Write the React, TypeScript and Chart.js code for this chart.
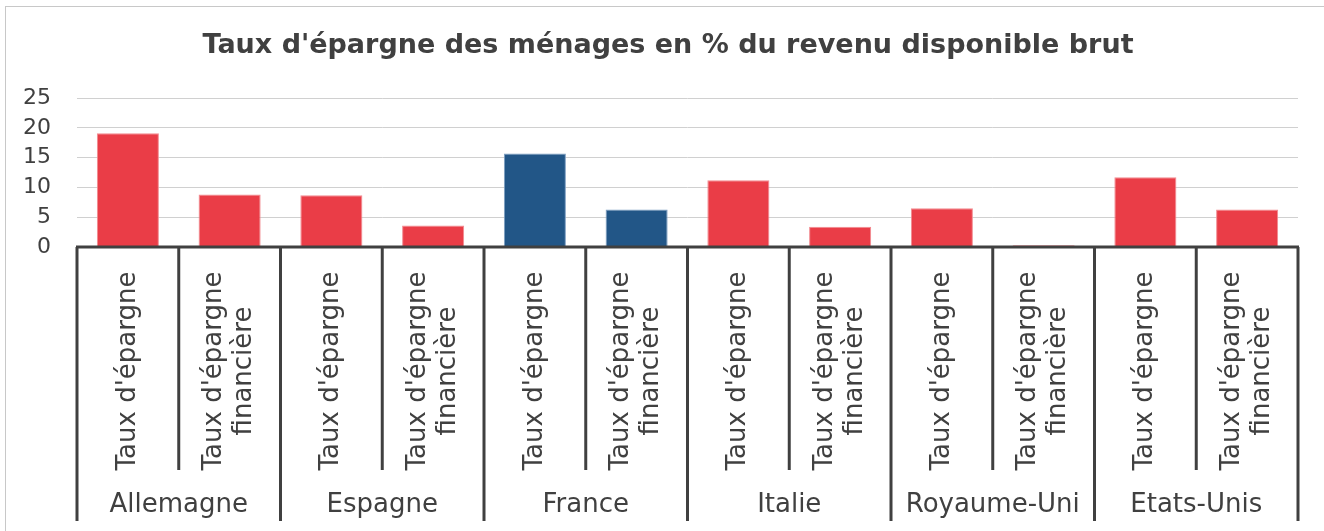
import React, { useEffect, useRef } from "react";
import { Chart, registerables } from "chart.js";

Chart.register(...registerables);

const titleText = "Taux d'épargne des ménages en % du revenu disponible brut";
const countries = ["Allemagne", "Espagne", "France", "Italie", "Royaume-Uni", "Etats-Unis"];
const rateTypes: string[][] = [["Taux d'épargne"], ["Taux d'épargne", "financière"]];
const savingRate = [19.1, 8.7, 15.7, 11.2, 6.5, 11.7];
const financialSavingRate = [8.8, 3.6, 6.3, 3.4, 0.3, 6.3];
const highlightedCountry = "France";
const yTicks = [0, 5, 10, 15, 20, 25];

const FONT = "'DejaVu Sans', 'Noto Sans', sans-serif";
const TEXT = "#404040";
const RED = "rgba(234,61,71,1)";
const RED_BORDER = "#f28a90";
const BLUE = "#225687";
const BLUE_BORDER = "#7d9ec2";

export default function App() {
  const ref = useRef<HTMLCanvasElement | null>(null);

  useEffect(() => {
    if (!ref.current) return;
    const labels: string[][] = [];
    const values: number[] = [];
    const bg: string[] = [];
    const bd: string[] = [];
    countries.forEach((c, i) => {
      const hl = c === highlightedCountry;
      [savingRate[i], financialSavingRate[i]].forEach((v, j) => {
        labels.push(rateTypes[j]);
        values.push(v);
        bg.push(hl ? BLUE : RED);
        bd.push(hl ? BLUE_BORDER : RED_BORDER);
      });
    });

    const frame = {
      id: "frame",
      beforeDraw(chart: any) {
        const ctx = chart.ctx;
        ctx.save();
        ctx.fillStyle = "#ffffff";
        ctx.fillRect(0, 0, chart.width, chart.height);
        ctx.strokeStyle = "#c8c8c8";
        ctx.lineWidth = 1;
        ctx.strokeRect(5.5, 6.5, chart.width + 10, chart.height + 10);
        ctx.fillStyle = TEXT;
        ctx.font = "bold 27px " + FONT;
        ctx.textAlign = "center";
        ctx.textBaseline = "middle";
        ctx.fillText(titleText, 668, 46);
        ctx.restore();
      },
    };

    const groupAxis = {
      id: "groupAxis",
      afterDraw(chart: any) {
        const ctx = chart.ctx;
        const xs = chart.scales.x;
        const ys = chart.scales.y;
        const area = chart.chartArea;
        const y0 = ys.getPixelForValue(0);
        const n = labels.length;
        const centers = labels.map((_, i) => xs.getPixelForValue(i));
        const bounds: number[] = [area.left];
        for (let i = 0; i < n - 1; i++) bounds.push((centers[i] + centers[i + 1]) / 2);
        bounds.push(area.right);
        const per = rateTypes.length;

        ctx.save();
        ctx.strokeStyle = TEXT;
        ctx.lineWidth = 3;
        ctx.beginPath();
        ctx.moveTo(area.left - 1, y0);
        ctx.lineTo(area.right + 1, y0);
        ctx.stroke();
        bounds.forEach((b, i) => {
          const outer = i % per === 0;
          ctx.beginPath();
          ctx.moveTo(b, y0);
          ctx.lineTo(b, outer ? y0 + 274 : y0 + 223);
          ctx.stroke();
        });

        ctx.fillStyle = TEXT;
        ctx.font = "26px " + FONT;
        ctx.textAlign = "center";
        ctx.textBaseline = "middle";
        labels.forEach((lines, i) => {
          ctx.save();
          ctx.translate(centers[i], y0 + 124);
          ctx.rotate(-Math.PI / 2);
          lines.forEach((line, j) => {
            ctx.fillText(line, 0, (j - (lines.length - 1) / 2) * 30);
          });
          ctx.restore();
        });

        ctx.font = "26px " + FONT;
        countries.forEach((c, g) => {
          const cx = (bounds[g * per] + bounds[g * per + per]) / 2;
          ctx.fillText(c, cx, y0 + 258);
        });
        ctx.restore();
      },
    };

    const chart = new Chart(ref.current, {
      type: "bar",
      data: {
        labels,
        datasets: [
          {
            data: values,
            backgroundColor: bg,
            borderColor: bd,
            borderWidth: 1,
            barPercentage: 0.61,
            categoryPercentage: 1,
          },
        ],
      },
      options: {
        responsive: false,
        animation: false,
        layout: { padding: { left: 0, right: 26, top: 98, bottom: 284 } },
        plugins: {
          legend: { display: false },
          tooltip: { enabled: false },
          title: { display: false },
        },
        scales: {
          x: { display: false },
          y: {
            min: 0,
            max: 25,
            afterFit(scale: any) {
              scale.width = 77;
            },
            afterBuildTicks(scale: any) {
              scale.ticks = yTicks.map((v) => ({ value: v }));
            },
            border: { display: false },
            grid: { color: "#d0d0d0", lineWidth: 1, drawTicks: false },
            ticks: {
              color: TEXT,
              padding: 26,
              font: { family: FONT, size: 22 },
            },
          },
        },
      },
      plugins: [frame, groupAxis],
    });
    return () => chart.destroy();
  }, []);

  return (
    <div style={{ position: "absolute", left: 0, top: 0, width: 1324, height: 531 }}>
      <canvas ref={ref} width={1324} height={531} />
    </div>
  );
}
